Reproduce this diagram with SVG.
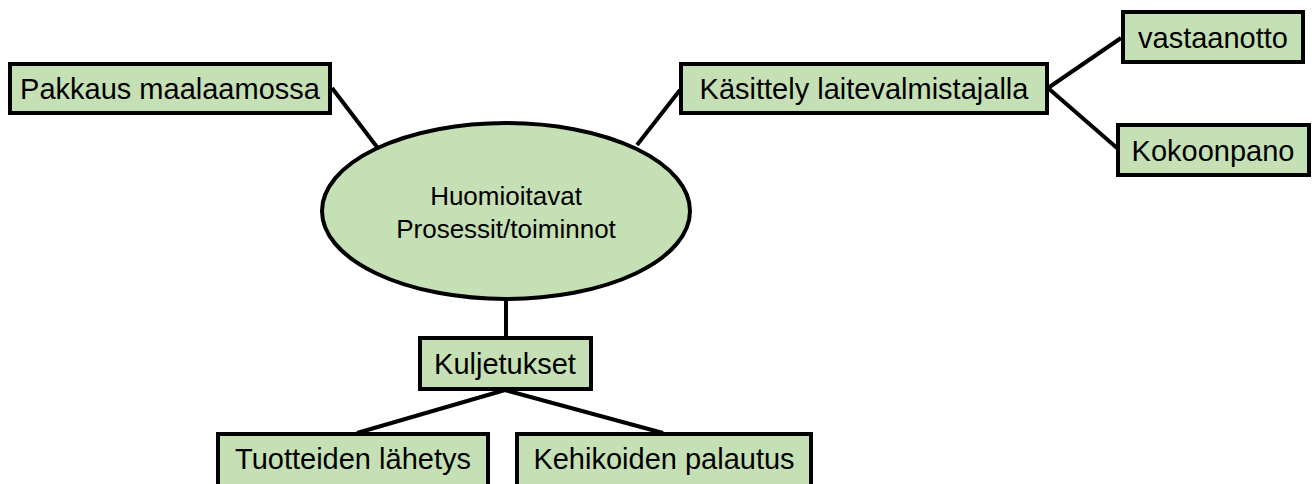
<svg xmlns="http://www.w3.org/2000/svg" width="1314" height="484" viewBox="0 0 1314 484">
<style>
.box{fill:#c5e0b4;stroke:#000;stroke-width:4}
.lbl{font-family:"Liberation Sans",Arial,sans-serif;font-size:29px;fill:#000;text-anchor:middle}
.elbl{font-family:"Liberation Sans",Arial,sans-serif;font-size:26px;fill:#000;text-anchor:middle}
.con{stroke:#000;stroke-width:4;fill:none}
</style>
<rect width="1314" height="484" fill="#fff"/>
<g id="connectors">
<line class="con" x1="332" y1="88" x2="377" y2="147"/>
<line class="con" x1="680" y1="90" x2="637" y2="145"/>
<line class="con" x1="1048" y1="88" x2="1121" y2="38"/>
<line class="con" x1="1048" y1="88" x2="1117" y2="148"/>
<line class="con" x1="506" y1="298" x2="506" y2="338"/>
<line class="con" x1="505" y1="390" x2="357" y2="433"/>
<line class="con" x1="505" y1="390" x2="663" y2="433"/>
</g>
<g id="center">
<ellipse class="box" cx="506" cy="211" rx="184" ry="88"/>
<text class="elbl" x="506" y="205">Huomioitavat</text>
<text class="elbl" x="506" y="238">Prosessit/toiminnot</text>
</g>
<g id="pakkaus">
<rect class="box" x="10" y="64" width="320" height="49"/>
<text class="lbl" x="170" y="99">Pakkaus maalaamossa</text>
</g>
<g id="kasittely">
<rect class="box" x="681" y="64" width="366" height="49"/>
<text class="lbl" x="864" y="99">Käsittely laitevalmistajalla</text>
</g>
<g id="vastaanotto">
<rect class="box" x="1123" y="12" width="180" height="50"/>
<text class="lbl" x="1213" y="48">vastaanotto</text>
</g>
<g id="kokoonpano">
<rect class="box" x="1118" y="125" width="191" height="50"/>
<text class="lbl" x="1213" y="161">Kokoonpano</text>
</g>
<g id="kuljetukset">
<rect class="box" x="420" y="338" width="171" height="51"/>
<text class="lbl" x="505" y="374">Kuljetukset</text>
</g>
<g id="tuotteiden">
<rect class="box" x="218" y="434" width="270" height="60"/>
<text class="lbl" x="353" y="469">Tuotteiden lähetys</text>
</g>
<g id="kehikoiden">
<rect class="box" x="517" y="434" width="294" height="60"/>
<text class="lbl" x="664" y="469">Kehikoiden palautus</text>
</g>
</svg>
